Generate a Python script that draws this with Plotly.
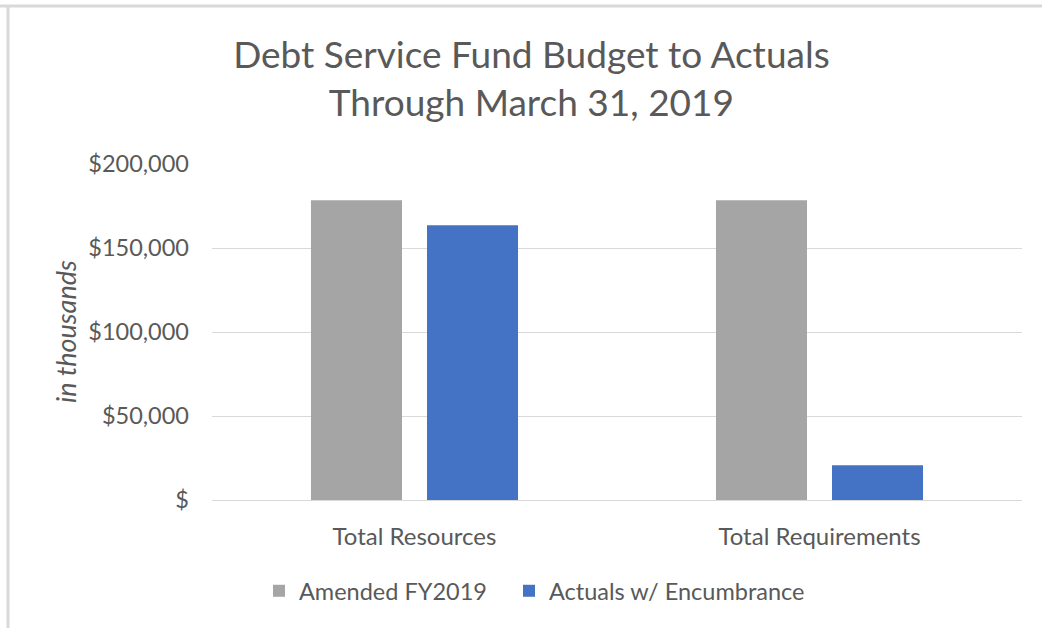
import plotly.graph_objects as go

categories = ["Total Resources", "Total Requirements"]
amended = [178400, 178400]
actuals = [163500, 20700]
series_names = ["Amended FY2019", "Actuals w/ Encumbrance"]
tick_vals = [0, 50000, 100000, 150000, 200000]
tick_text = ["$", "$50,000", "$100,000", "$150,000", "$200,000"]

FONT = "Lato"
TXT = "#595959"

fig = go.Figure()
fig.add_trace(go.Bar(x=categories, y=amended, name=series_names[0], legend="legend",
                     marker=dict(color="#A5A5A5", line=dict(width=0))))
fig.add_trace(go.Bar(x=categories, y=actuals, name=series_names[1], legend="legend2",
                     marker=dict(color="#4472C4", line=dict(width=0))))

L, R, T, B = 212, 20, 164, 128
W, H = 1042, 628
pw, ph = W - L - R, H - T - B

def px(x):
    return (x - L) / pw

def py(y):
    return (H - B - y) / ph

leg_common = dict(orientation="h", xanchor="left", y=py(591), yanchor="middle",
                  font=dict(family=FONT, size=23.5, color=TXT), itemwidth=30,
                  bgcolor="rgba(0,0,0,0)")

fig.update_layout(
    width=W, height=H,
    margin=dict(l=L, r=R, t=T, b=B),
    paper_bgcolor="white", plot_bgcolor="white",
    barmode="group", bargap=0.427, bargroupgap=0.2155,
    font=dict(family=FONT, color=TXT, size=20),
    title=dict(text="Debt Service Fund Budget to Actuals<br>Through March 31, 2019",
               x=0.51, xanchor="center", y=1 - 68 / H, yanchor="middle",
               font=dict(family=FONT, size=37, color=TXT)),
    showlegend=True,
    legend=dict(x=px(259), **leg_common),
    legend2=dict(x=px(509), **leg_common),
    xaxis=dict(showgrid=False, showline=False, ticks="", tickfont=dict(size=24, color=TXT),
               ticklabelstandoff=20),
    yaxis=dict(range=[0, 200000], tickvals=tick_vals, ticktext=tick_text,
               showgrid=True, gridcolor="#D9D9D9", gridwidth=1,
               zeroline=True, zerolinecolor="#D9D9D9", zerolinewidth=1,
               showline=False, ticks="", tickfont=dict(size=23.5, color=TXT),
               ticklabelstandoff=22),
    annotations=[dict(text="<i>in thousands</i>", xref="paper", yref="paper",
                      x=px(65), y=0.5, xanchor="center", yanchor="middle",
                      textangle=-90, showarrow=False,
                      font=dict(family=FONT, size=27, color=TXT))],
    shapes=[
        dict(type="line", xref="paper", yref="paper", x0=px(0), x1=px(W), y0=py(6), y1=py(6),
             line=dict(color="#D9D9D9", width=3)),
        dict(type="line", xref="paper", yref="paper", x0=px(8), x1=px(8), y0=py(6), y1=py(H),
             line=dict(color="#D9D9D9", width=3)),
    ],
)

fig.write_html("out.html")
